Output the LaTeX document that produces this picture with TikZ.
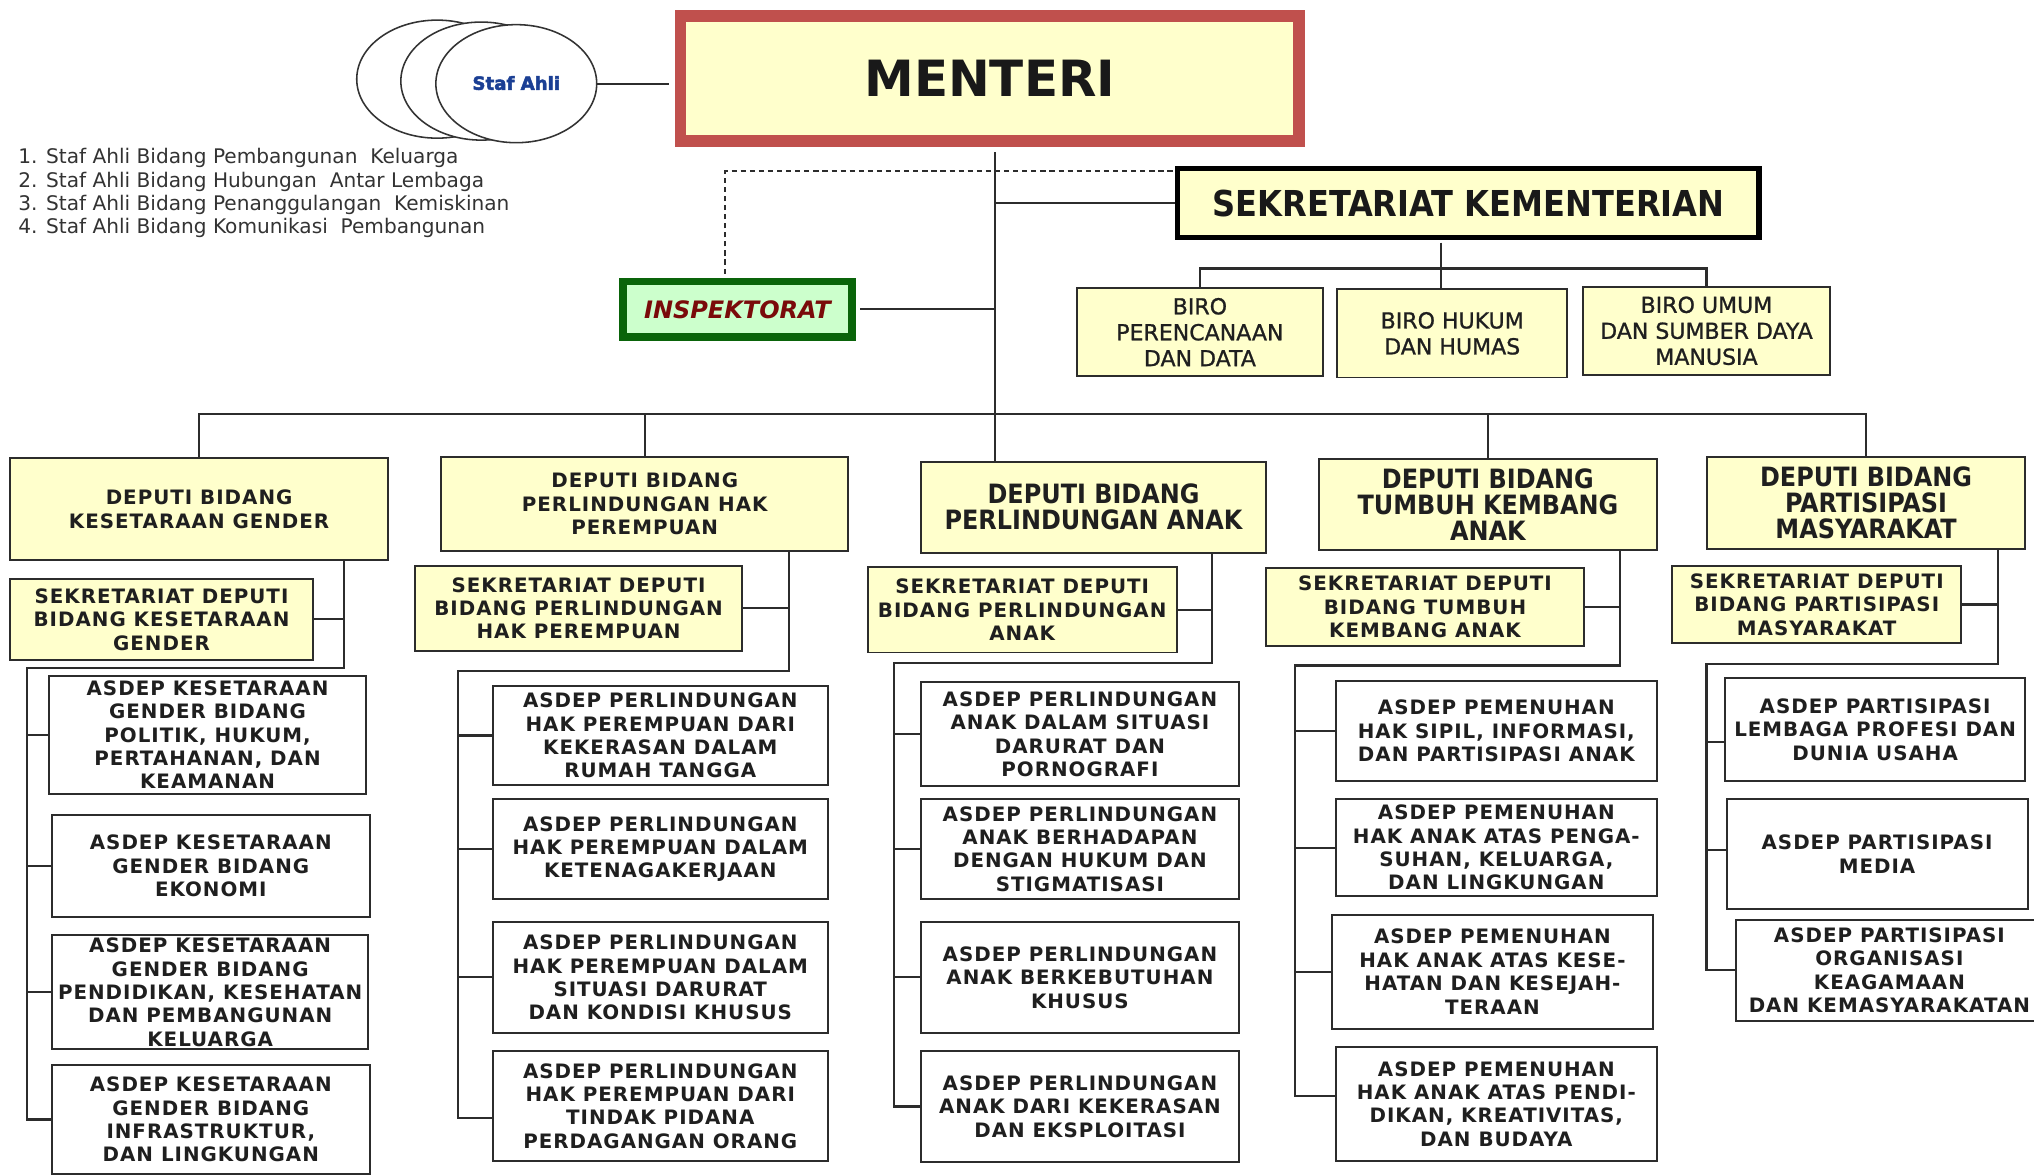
\documentclass[tikz,border=0pt]{standalone}
\usepackage{fontspec}
\setmainfont{DejaVu Sans}
\newfontfamily\tah{DejaVu Sans Condensed}
\newfontfamily\vbf[LetterSpace=5]{DejaVu Sans}
\newfontfamily\birof[FakeBold=1]{DejaVu Sans}
\newfontfamily\heavyf[FakeBold=2.5]{DejaVu Sans Bold}
\usetikzlibrary{shapes.geometric}
\definecolor{yel}{HTML}{FFFFCC}
\definecolor{lc}{HTML}{2C2C2C}
\definecolor{redb}{HTML}{C0504D}
\definecolor{grb}{HTML}{0A640A}
\definecolor{grf}{HTML}{CCFFCC}
\definecolor{inspred}{HTML}{7A0A0A}
\definecolor{stafblue}{HTML}{1B3F94}
\definecolor{listc}{HTML}{333333}
\newcommand{\mkbox}[7]{\node[#6,minimum width={#4-#2},minimum height={#5-#3}] (#1) at ({(#2+#4)/2},{(#3+#5)/2}) {#7};}
\begin{document}
\begin{tikzpicture}[x=1pt,y=-1pt,
  bx/.style={draw=lc,line width=1.5pt,inner sep=0pt,outer sep=0pt,align=center},
  ybox/.style={bx,fill=yel},
  wbox/.style={bx,fill=white},
  vt/.style={font=\vbf\bfseries\fontsize{15.3}{18}\selectfont,text=black!88},
  tt/.style={font=\tah\bfseries\fontsize{20.5}{20}\selectfont,text=black!88},
  bt/.style={font=\birof\fontsize{17}{20}\selectfont,text=black!88},
  conn/.style={draw=lc,line width=1.6pt},
  circ/.style={ellipse,draw=black!80,line width=1.2pt,fill=white,minimum width=124pt,minimum height=91pt,inner sep=0pt},
  lst/.style={anchor=west,inner sep=0pt,font=\fontsize{15.5}{18}\selectfont,text=listc}
]
\useasboundingbox (0,0) rectangle (1568,906);
\fill[white] (0,0) rectangle (1568,906);

% Staf Ahli
\node[circ] (c1) at (337,61) {};
\node[circ] (c2) at (371,62.5) {};
\node[circ] (c3) at (398,64.5) {};
\node[font=\heavyf\fontsize{14}{14}\selectfont,text=stafblue] (staf) at (398,64) {Staf Ahli};
\node[lst] (st1) at (14,122) {1. Staf Ahli Bidang Pembangunan~ Keluarga};
\node[lst] (st2) at (14,140) {2. Staf Ahli Bidang Hubungan~ Antar Lembaga};
\node[lst] (st3) at (14,158) {3. Staf Ahli Bidang Penanggulangan~ Kemiskinan};
\node[lst] (st4) at (14,176) {4. Staf Ahli Bidang Komunikasi~ Pembangunan};

% Top
\node[draw=redb,line width=9pt,fill=yel,inner sep=0pt,minimum width=477pt,minimum height=96pt,font=\bfseries\fontsize{38.5}{40}\selectfont,text=black!90] (menteri) at (763,60.5) {MENTERI};
\node[draw=black,line width=4pt,fill=yel,inner sep=0pt,minimum width=448pt,minimum height=53pt,font=\tah\bfseries\fontsize{27.5}{28}\selectfont,text=black!90] (sek) at (1132,156.5) {SEKRETARIAT KEMENTERIAN};
\node[draw=grb,line width=6pt,fill=grf,inner sep=0pt,minimum width=177pt,minimum height=43pt,font=\bfseries\itshape\fontsize{18.5}{20}\selectfont,text=inspred] (insp) at (568.5,238.5) {INSPEKTORAT};

\mkbox{biro1}{830}{222}{1020}{290}{ybox,bt}{BIRO\\PERENCANAAN\\DAN DATA}
\mkbox{biro2}{1031}{223}{1208}{291}{ybox,bt}{BIRO HUKUM\\DAN HUMAS}
\mkbox{biro3}{1220}{221}{1411}{289}{ybox,bt}{BIRO UMUM\\DAN SUMBER DAYA\\MANUSIA}

% Deputies
\mkbox{dep1}{8}{353}{299}{432}{ybox,vt}{DEPUTI BIDANG\\KESETARAAN GENDER}
\mkbox{dep2}{340}{352}{654}{425}{ybox,vt}{DEPUTI BIDANG\\PERLINDUNGAN HAK\\PEREMPUAN}
\mkbox{dep3}{710}{356}{976}{426}{ybox,tt}{DEPUTI BIDANG\\PERLINDUNGAN ANAK}
\mkbox{dep4}{1017}{354}{1277}{424}{ybox,tt}{DEPUTI BIDANG\\TUMBUH KEMBANG\\ANAK}
\mkbox{dep5}{1316}{352}{1561}{423}{ybox,tt}{DEPUTI BIDANG\\PARTISIPASI\\MASYARAKAT}

% Sekretariat deputi
\mkbox{sek1}{8}{446}{241}{509}{ybox,vt}{SEKRETARIAT DEPUTI\\BIDANG KESETARAAN\\GENDER}
\mkbox{sek2}{320}{436}{572}{502}{ybox,vt}{SEKRETARIAT DEPUTI\\BIDANG PERLINDUNGAN\\HAK PEREMPUAN}
\mkbox{sek3}{669}{437}{907}{503}{ybox,vt}{SEKRETARIAT DEPUTI\\BIDANG PERLINDUNGAN\\ANAK}
\mkbox{sek4}{976}{438}{1221}{498}{ybox,vt}{SEKRETARIAT DEPUTI\\BIDANG TUMBUH\\KEMBANG ANAK}
\mkbox{sek5}{1289}{436}{1512}{496}{ybox,vt}{SEKRETARIAT DEPUTI\\BIDANG PARTISIPASI\\MASYARAKAT}

% Column 1
\mkbox{a11}{38}{521}{282}{612}{wbox,vt}{ASDEP KESETARAAN\\GENDER BIDANG\\POLITIK, HUKUM,\\PERTAHANAN, DAN\\KEAMANAN}
\mkbox{a12}{40}{628}{285}{707}{wbox,vt}{ASDEP KESETARAAN\\GENDER BIDANG\\EKONOMI}
\mkbox{a13}{40}{721}{284}{809}{wbox,vt}{ASDEP KESETARAAN\\GENDER BIDANG\\PENDIDIKAN, KESEHATAN\\DAN PEMBANGUNAN\\KELUARGA}
\mkbox{a14}{40}{821}{285}{905}{wbox,vt}{ASDEP KESETARAAN\\GENDER BIDANG\\INFRASTRUKTUR,\\DAN LINGKUNGAN}
% Column 2
\mkbox{a21}{380}{529}{638}{605}{wbox,vt}{ASDEP PERLINDUNGAN\\HAK PEREMPUAN DARI\\KEKERASAN DALAM\\RUMAH TANGGA}
\mkbox{a22}{380}{616}{638}{693}{wbox,vt}{ASDEP PERLINDUNGAN\\HAK PEREMPUAN DALAM\\KETENAGAKERJAAN}
\mkbox{a23}{380}{711}{638}{796}{wbox,vt}{ASDEP PERLINDUNGAN\\HAK PEREMPUAN DALAM\\SITUASI DARURAT\\DAN KONDISI KHUSUS}
\mkbox{a24}{380}{810}{638}{895}{wbox,vt}{ASDEP PERLINDUNGAN\\HAK PEREMPUAN DARI\\TINDAK PIDANA\\PERDAGANGAN ORANG}
% Column 3
\mkbox{a31}{710}{526}{955}{606}{wbox,vt}{ASDEP PERLINDUNGAN\\ANAK DALAM SITUASI\\DARURAT DAN\\PORNOGRAFI}
\mkbox{a32}{710}{616}{955}{693}{wbox,vt}{ASDEP PERLINDUNGAN\\ANAK BERHADAPAN\\DENGAN HUKUM DAN\\STIGMATISASI}
\mkbox{a33}{710}{711}{955}{796}{wbox,vt}{ASDEP PERLINDUNGAN\\ANAK BERKEBUTUHAN\\KHUSUS}
\mkbox{a34}{710}{810}{955}{896}{wbox,vt}{ASDEP PERLINDUNGAN\\ANAK DARI KEKERASAN\\DAN EKSPLOITASI}
% Column 4
\mkbox{a41}{1030}{525}{1277}{602}{wbox,vt}{ASDEP PEMENUHAN\\HAK SIPIL, INFORMASI,\\DAN PARTISIPASI ANAK}
\mkbox{a42}{1030}{616}{1277}{691}{wbox,vt}{ASDEP PEMENUHAN\\HAK ANAK ATAS PENGA-\\SUHAN, KELUARGA,\\DAN LINGKUNGAN}
\mkbox{a43}{1027}{705}{1274}{793}{wbox,vt}{ASDEP PEMENUHAN\\HAK ANAK ATAS KESE-\\HATAN DAN KESEJAH-\\TERAAN}
\mkbox{a44}{1030}{807}{1277}{895}{wbox,vt}{ASDEP PEMENUHAN\\HAK ANAK ATAS PENDI-\\DIKAN, KREATIVITAS,\\DAN BUDAYA}
% Column 5
\mkbox{a51}{1330}{523}{1561}{602}{wbox,vt}{ASDEP PARTISIPASI\\LEMBAGA PROFESI DAN\\DUNIA USAHA}
\mkbox{a52}{1331}{616}{1563}{701}{wbox,vt}{ASDEP PARTISIPASI\\MEDIA}
\mkbox{a53}{1338}{709}{1575}{787}{wbox,vt}{ASDEP PARTISIPASI\\ORGANISASI\\KEAGAMAAN\\DAN KEMASYARAKATAN}

% ---- connectors ----
\draw[conn] (c3.east) -- ([xshift=-4.5pt]c3.east -| menteri.west);
\coordinate (tr) at (767,319);
\draw[conn] ([yshift=-4.5pt]menteri.south -| tr) -- (dep3.north -| tr);
\draw[conn] (dep1.north) |- (tr) -| (dep5.north);
\draw[conn] (dep2.north) -- (dep2.north |- tr);
\draw[conn] (dep4.north) -- (dep4.north |- tr);
\draw[conn] ([xshift=3pt]insp.east) -- (insp.east -| tr);
\draw[conn] (sek.west -| tr) -- (sek.west);
\coordinate (dsh) at (906,132);
\draw[draw=lc,line width=1.2pt,dash pattern=on 4pt off 3pt] ([xshift=-9.5pt,yshift=3pt]insp.north) -- ([xshift=-9.5pt]insp.north |- dsh) -- (dsh);
\coordinate (bb) at (1111,207);
\draw[conn] ([yshift=-2pt]sek.south -| bb) -- (biro2.north -| bb);
\draw[conn] (biro1.north) |- (bb) -| (biro3.north);

% column 1
\coordinate (k1) at (265,515); \coordinate (l1) at (21,515);
\draw[conn] (dep1.south -| k1) -- (k1) -- (l1) |- (a14.west);
\draw[conn] (sek1.east) -- (sek1.east -| k1);
\foreach \n in {a11,a12,a13} \draw[conn] (\n.west) -- (\n.west -| l1);
% column 2
\coordinate (k2) at (608,517); \coordinate (l2) at (353,517);
\draw[conn] (dep2.south -| k2) -- (k2) -- (l2) |- ([yshift=-9.5pt]a24.west);
\draw[conn] (sek2.east) -- (sek2.east -| k2);
\foreach \n in {a21,a22,a23} \draw[conn] (\n.west) -- (\n.west -| l2);
% column 3
\coordinate (k3) at (934,511); \coordinate (l3) at (689,511);
\draw[conn] (dep3.south -| k3) -- (k3) -- (l3) |- (a34.west);
\draw[conn] (sek3.east) -- (sek3.east -| k3);
\foreach \n in {a31,a32,a33} \draw[conn] (\n.west) -- (\n.west -| l3);
% column 4
\coordinate (k4) at (1249,513); \coordinate (l4) at (998,513);
\draw[conn] (dep4.south -| k4) -- (k4) -- (l4) |- ([yshift=6pt]a44.west);
\draw[conn] (sek4.east) -- (sek4.east -| k4);
\foreach \n in {a41,a42,a43} \draw[conn] (\n.west) -- (\n.west -| l4);
% column 5
\coordinate (k5) at (1540,512); \coordinate (l5) at (1315.5,512);
\draw[conn] (dep5.south -| k5) -- (k5) -- (l5) |- (a53.west);
\draw[conn] (sek5.east) -- (sek5.east -| k5);
\draw[conn] ([yshift=-9.5pt]a51.west) -- ([yshift=-9.5pt]a51.west -| l5);
\draw[conn] ([yshift=3.5pt]a52.west) -- ([yshift=3.5pt]a52.west -| l5);
\end{tikzpicture}
\end{document}
